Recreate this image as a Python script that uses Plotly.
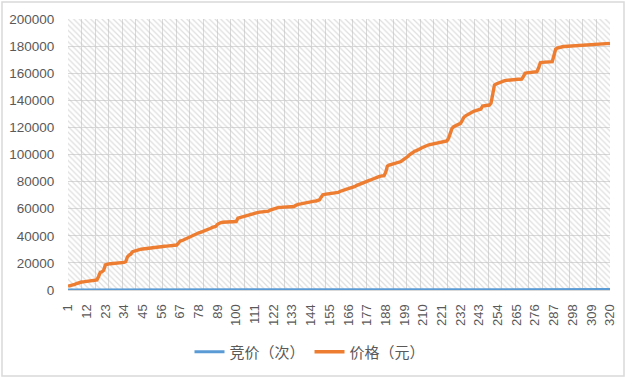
import plotly.graph_objects as go

categories = list(range(1, 321))
tick_labels = [1, 12, 23, 34, 45, 56, 67, 78, 89, 100, 111, 122, 133, 144, 155, 166, 177,
               188, 199, 210, 221, 232, 243, 254, 265, 276, 287, 298, 309, 320]

bids = [
    1, 2, 3, 4, 5, 6, 7, 8, 9, 10, 11, 12, 13, 14, 15, 16, 17, 18, 19, 20,
    21, 22, 23, 24, 25, 26, 27, 28, 29, 30, 31, 32, 33, 34, 35, 36, 37, 38, 39, 40,
    41, 42, 43, 44, 45, 46, 47, 48, 49, 50, 51, 52, 53, 54, 55, 56, 57, 58, 59, 60,
    61, 62, 63, 64, 65, 66, 67, 68, 69, 70, 71, 72, 73, 74, 75, 76, 77, 78, 79, 80,
    81, 82, 83, 84, 85, 86, 87, 88, 89, 90, 91, 92, 93, 94, 95, 96, 97, 98, 99, 100,
    101, 102, 103, 104, 105, 106, 107, 108, 109, 110, 111, 112, 113, 114, 115, 116, 117, 118, 119, 120,
    121, 122, 123, 124, 125, 126, 127, 128, 129, 130, 131, 132, 133, 134, 135, 136, 137, 138, 139, 140,
    141, 142, 143, 144, 145, 146, 147, 148, 149, 150, 151, 152, 153, 154, 155, 156, 157, 158, 159, 160,
    161, 162, 163, 164, 165, 166, 167, 168, 169, 170, 171, 172, 173, 174, 175, 176, 177, 178, 179, 180,
    181, 182, 183, 184, 185, 186, 187, 188, 189, 190, 191, 192, 193, 194, 195, 196, 197, 198, 199, 200,
    201, 202, 203, 204, 205, 206, 207, 208, 209, 210, 211, 212, 213, 214, 215, 216, 217, 218, 219, 220,
    221, 222, 223, 224, 225, 226, 227, 228, 229, 230, 231, 232, 233, 234, 235, 236, 237, 238, 239, 240,
    241, 242, 243, 244, 245, 246, 247, 248, 249, 250, 251, 252, 253, 254, 255, 256, 257, 258, 259, 260,
    261, 262, 263, 264, 265, 266, 267, 268, 269, 270, 271, 272, 273, 274, 275, 276, 277, 278, 279, 280,
    281, 282, 283, 284, 285, 286, 287, 288, 289, 290, 291, 292, 293, 294, 295, 296, 297, 298, 299, 300,
    301, 302, 303, 304, 305, 306, 307, 308, 309, 310, 311, 312, 313, 314, 315, 316, 317, 318, 319, 320,
]

prices = [
    2800, 3000, 3200, 3600, 4200, 4800, 5300, 5700, 5900, 6000,
    6100, 6200, 6300, 6500, 6700, 6900, 7100, 7400, 10000, 13000,
    13500, 14500, 18500, 19200, 19300, 19400, 19500, 19600, 19700, 19800,
    19900, 20000, 20200, 20400, 21000, 24500, 25800, 26500, 28300, 28800,
    29200, 29500, 29800, 30100, 30300, 30500, 30700, 30900, 31100, 31200,
    31300, 31500, 31600, 31800, 32000, 32100, 32200, 32300, 32400, 32500,
    32600, 32700, 32900, 33000, 33200, 34500, 36200, 36400, 37000, 38000,
    38600, 39000, 39400, 40200, 41000, 41500, 41800, 42200, 42600, 43000,
    43600, 44200, 44500, 45000, 45600, 46200, 46500, 47000, 48500, 49500,
    49800, 50000, 50100, 50200, 50200, 50300, 50300, 50400, 50400, 50500,
    53000, 53400, 53700, 54000, 54400, 54800, 55100, 55300, 55600, 56500,
    57000, 57200, 57300, 57500, 57600, 57700, 57800, 57900, 58200, 59000,
    59500, 60000, 60500, 60700, 60900, 61000, 61100, 61200, 61300, 61400,
    61400, 61500, 61500, 61600, 62500, 63200, 63400, 63600, 63900, 64200,
    64600, 65000, 65200, 65400, 65500, 65600, 65700, 65800, 66500, 68500,
    70300, 70600, 70800, 70900, 71000, 71100, 71200, 71300, 71400, 72000,
    72700, 73300, 73700, 74100, 74500, 74800, 75200, 75500, 75700, 76500,
    77200, 77800, 78400, 79000, 79500, 80000, 80400, 80700, 81200, 81800,
    82400, 82900, 83200, 83600, 84000, 84200, 84400, 87000, 91500, 92200,
    92500, 92800, 93000, 93300, 93600, 94000, 94800, 95800, 96500, 97200,
    98500, 99800, 100900, 101800, 102400, 102900, 103300, 104000, 104800, 105500,
    106000, 106500, 107000, 107300, 107600, 107800, 108000, 108200, 108500, 108800,
    109100, 109300, 109500, 110000, 112000, 116000, 119300, 120500, 121200, 122000,
    122700, 123000, 125000, 127500, 128500, 129200, 130400, 131000, 131500, 132000,
    132300, 132600, 132800, 133500, 135800, 136000, 136200, 136400, 136500, 138000,
    145000, 151300, 152000, 152600, 153200, 153800, 154200, 154500, 154700, 154900,
    155000, 155100, 155200, 155300, 155400, 155500, 155500, 155600, 157500, 159900,
    160200, 160400, 160600, 160800, 160900, 161000, 161100, 164000, 167700, 168000,
    168100, 168200, 168300, 168400, 168500, 168500, 173000, 177600, 178600, 179100,
    179300, 179500, 179700, 179800, 179900, 180000, 180100, 180200, 180300, 180400,
    180500, 180600, 180700, 180800, 180900, 181000, 181100, 181200, 181300, 181400,
    181500, 181550, 181600, 181650, 181700, 181750, 181800, 181850, 181900, 182000,
]

series_names = ["竞价（次）", "价格（元）"]
y_ticks = [0, 20000, 40000, 60000, 80000, 100000, 120000, 140000, 160000, 180000, 200000]

W, H = 628, 378
L, R, T, B = 68, 18, 19, 88
pw, ph = W - L - R, H - T - B

FONT = "Liberation Sans, Arial, Noto Sans CJK SC, sans-serif"
TXT = "#595959"
GRID = "#d9d9d9"

fig = go.Figure()

# hatched plot-area background on the base axes
fig.add_trace(go.Scatter(
    x=[0, 1, 1, 0, 0], y=[0, 0, 1, 1, 0], mode="none", fill="toself",
    fillcolor="rgba(0,0,0,0)",
    fillpattern=dict(shape="\\", fgcolor="#bdbdbd", bgcolor="rgba(0,0,0,0)",
                     size=4, solidity=0.3, fillmode="overlay"),
    hoverinfo="skip", showlegend=False, xaxis="x", yaxis="y",
))

fig.add_trace(go.Scatter(
    x=categories, y=bids, mode="lines", name=series_names[0],
    line=dict(color="#5B9BD5", width=3), xaxis="x2", yaxis="y2",
))
fig.add_trace(go.Scatter(
    x=categories, y=prices, mode="lines", name=series_names[1],
    line=dict(color="#ED7D31", width=3.4), xaxis="x2", yaxis="y2",
))

fig.update_layout(
    width=W, height=H,
    margin=dict(l=L, r=R, t=T, b=B, autoexpand=False),
    paper_bgcolor="white", plot_bgcolor="white",
    font=dict(family=FONT, color=TXT, size=13),
    xaxis=dict(range=[0, 1], showgrid=True, gridcolor=GRID, gridwidth=1,
               tick0=0, dtick=1 / 40, showticklabels=False, zeroline=False,
               ticks="", showline=False, fixedrange=True, automargin=False),
    yaxis=dict(range=[0, 1], showgrid=True, gridcolor=GRID, gridwidth=1,
               tick0=0, dtick=0.1, showticklabels=False, zeroline=False,
               ticks="", showline=False, fixedrange=True, automargin=False),
    xaxis2=dict(overlaying="x", side="bottom", range=[1, 320], showgrid=False,
                zeroline=False, tickmode="array", tickvals=tick_labels,
                ticktext=[str(v) for v in tick_labels], tickangle=-90,
                ticks="outside", ticklen=8, tickcolor="rgba(0,0,0,0)",
                tickfont=dict(size=13, color=TXT), showline=True,
                linecolor=GRID, linewidth=1, automargin=False),
    yaxis2=dict(overlaying="y", side="left", range=[0, 200000], showgrid=False,
                zeroline=False, tickmode="array", tickvals=y_ticks,
                ticktext=[str(v) for v in y_ticks],
                ticks="outside", ticklen=10, tickcolor="rgba(0,0,0,0)",
                tickfont=dict(size=13.5, color=TXT), showline=False, automargin=False),
    legend=dict(orientation="h", x=(310 - L) / pw, xanchor="center",
                y=(T + ph - 352) / ph, yanchor="middle",
                font=dict(size=15, color=TXT, family=FONT),
                bgcolor="rgba(0,0,0,0)", itemwidth=30),
    shapes=[dict(type="rect", xref="paper", yref="paper",
                 x0=(2 - L) / pw, x1=(624 - L) / pw,
                 y0=(T + ph - 376) / ph, y1=(T + ph - 2) / ph,
                 line=dict(color="#d9d9d9", width=1.5), fillcolor="rgba(0,0,0,0)",
                 layer="below")],
)

fig.write_html(
    "out.html",
    config={"displayModeBar": False},
    post_script="document.body.style.margin='0';document.body.style.padding='0';",
)
